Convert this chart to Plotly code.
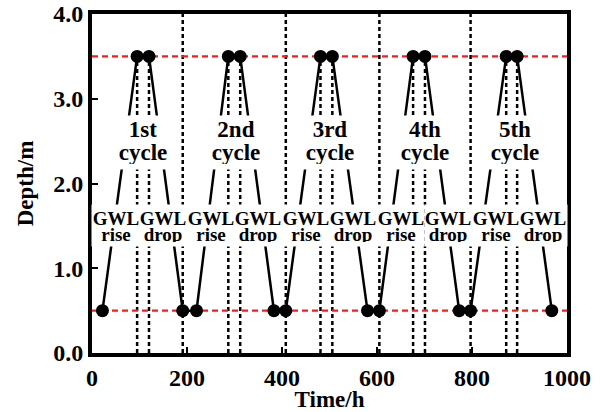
import plotly.graph_objects as go

# Groundwater level (GWL) turning points over five rise/drop cycles
time_h = [22, 95, 120, 191, 220, 287, 312, 383, 408, 481,
          506, 580, 605, 676, 701, 773, 797, 872, 895, 968]
depth_m = [0.5, 3.5, 3.5, 0.5, 0.5, 3.5, 3.5, 0.5, 0.5, 3.5,
           3.5, 0.5, 0.5, 3.5, 3.5, 0.5, 0.5, 3.5, 3.5, 0.5]

# Reference depths (shallow / deep water table)
ref_depths = [0.5, 3.5]

# Times separating consecutive cycles
cycle_bounds = [191, 408, 605, 797]

# Cycle labels
cycle_names = ["1st", "2nd", "3rd", "4th", "5th"]
cycle_x = [107, 303, 502, 701, 890]
cycle_y = 2.5

# Phase labels along the rise / drop limbs
phase_names = ["rise", "drop", "rise", "drop", "rise",
               "drop", "rise", "drop", "rise", "drop"]
phase_x = [50, 150, 250, 350, 450, 550, 650, 750, 850, 950]
phase_y = 1.5

x_range = [0, 1000]
y_range = [0, 4]
x_ticks = [0, 200, 400, 600, 800, 1000]
y_ticks = [0, 1, 2, 3, 4]

FONT = "Liberation Serif"
MARGIN = dict(l=92, r=41, t=14, b=59)
plot_h = 412 - MARGIN["t"] - MARGIN["b"]
px_to_y = (y_range[1] - y_range[0]) / plot_h

fig = go.Figure()

dot_line = dict(color="black", width=2.5, dash="4px,3px")

# vertical dotted guides through the peak points
for t, d in zip(time_h, depth_m):
    if d == max(depth_m):
        fig.add_shape(type="line", xref="x", yref="y", x0=t, x1=t,
                      y0=y_range[0], y1=d, layer="below", line=dot_line)

# cycle boundaries
for t in cycle_bounds:
    fig.add_shape(type="line", xref="x", yref="y", x0=t, x1=t,
                  y0=y_range[0], y1=y_range[1], layer="below", line=dot_line)

# red reference depths
for d in ref_depths:
    fig.add_shape(type="line", xref="x", yref="y", x0=x_range[0], x1=x_range[1],
                  y0=d, y1=d, layer="below",
                  line=dict(color="#ff1a1a", width=2.2, dash="6px,4px"))

fig.add_trace(go.Scatter(
    x=time_h, y=depth_m, mode="lines+markers",
    line=dict(color="black", width=2.5),
    marker=dict(color="black", size=13),
    showlegend=False, hoverinfo="skip",
))

annotations = []
# white backing boxes behind the labels
for cx in cycle_x:
    annotations.append(dict(x=cx, y=cycle_y - 1.5 * px_to_y, xref="x", yref="y",
                            text=" ", showarrow=False, width=55, height=53,
                            bgcolor="white", borderpad=0,
                            xanchor="center", yanchor="middle"))
for lx in phase_x:
    annotations.append(dict(x=lx, y=phase_y, xref="x", yref="y",
                            text=" ", showarrow=False, width=47, height=41,
                            bgcolor="white", borderpad=0,
                            xanchor="center", yanchor="middle"))

cyc_font = dict(family=FONT, size=23, color="black")
gwl_font = dict(family=FONT, size=19, color="black")


def line_text(x, y, text, font, w, h):
    return dict(x=x, y=y, xref="x", yref="y", text="<b>%s</b>" % text,
                showarrow=False, font=font, width=w, height=h, borderpad=0,
                xanchor="center", yanchor="middle", valign="middle")


for name, cx in zip(cycle_names, cycle_x):
    annotations.append(line_text(cx, cycle_y + 11.5 * px_to_y, name, cyc_font, 54, 23))
    annotations.append(line_text(cx, cycle_y - 11.5 * px_to_y, "cycle", cyc_font, 54, 23))
for name, lx in zip(phase_names, phase_x):
    annotations.append(line_text(lx, phase_y + 8.3 * px_to_y, "GWL", gwl_font, 46, 16))
    annotations.append(line_text(lx, phase_y - 8.3 * px_to_y, name, gwl_font, 46, 16))

tick_font = dict(family=FONT, size=24, color="black", weight="bold")
title_font = dict(family=FONT, size=23, color="black", weight="bold")

fig.update_layout(
    width=608, height=412,
    margin=MARGIN,
    paper_bgcolor="white", plot_bgcolor="white",
    annotations=annotations,
    xaxis=dict(range=x_range, tickvals=x_ticks, ticks="inside", ticklen=6,
               tickwidth=2, tickcolor="black", showline=True, linewidth=4,
               linecolor="black", mirror=True, showgrid=False, zeroline=False,
               tickfont=tick_font, automargin=False,
               title=dict(text="<b>Time/h</b>", font=title_font, standoff=2)),
    yaxis=dict(range=y_range, tickvals=y_ticks, tickformat=".1f", ticks="inside",
               ticklen=6, tickwidth=2, tickcolor="black", showline=True,
               linewidth=4, linecolor="black", mirror=True, showgrid=False,
               zeroline=False, tickfont=tick_font, automargin=False,
               title=dict(text="<b>Depth/m</b>", font=title_font, standoff=14)),
)

fig.write_html("out.html")
